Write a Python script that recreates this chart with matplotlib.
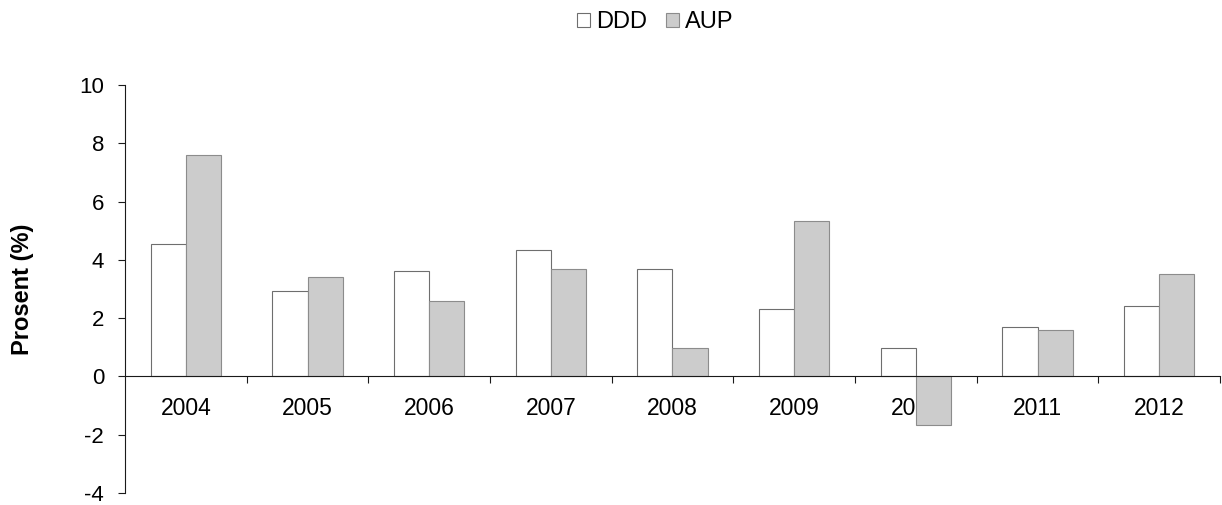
import matplotlib
matplotlib.use("Agg")
import matplotlib.pyplot as plt
import numpy as np
from matplotlib.ticker import FixedLocator

plt.rcParams['font.family'] = ['Liberation Sans', 'DejaVu Sans']

years = ['2004', '2005', '2006', '2007', '2008', '2009', '2010', '2011', '2012']
ddd = [4.53, 2.93, 3.61, 4.34, 3.70, 2.32, 0.96, 1.70, 2.42]
aup = [7.59, 3.40, 2.58, 3.69, 0.98, 5.35, -1.67, 1.58, 3.50]
yticks = [-4, -2, 0, 2, 4, 6, 8, 10]

fig = plt.figure(figsize=(12.22, 5.05), dpi=100)
ax = fig.add_axes([125/1222, 1-493/505, 1095/1222, (493-85)/505])

x = np.arange(len(years))
w = 0.29
b1 = ax.bar(x - w/2, ddd, width=w, color='white', edgecolor='#6e6e6e', linewidth=0.8, label='DDD', zorder=3)
b2 = ax.bar(x + w/2, aup, width=w, color='#cccccc', edgecolor='#8c8c8c', linewidth=0.8, label='AUP', zorder=3)

ax.set_xlim(-0.5, len(years) - 0.5)
ax.set_ylim(-4, 10)
ax.set_yticks(yticks)
ax.set_yticklabels([str(t) for t in yticks], fontsize=16)

ax.spines['top'].set_visible(False)
ax.spines['right'].set_visible(False)
ax.spines['bottom'].set_position(('data', 0))
for s in ['left', 'bottom']:
    ax.spines[s].set_color('#1a1a1a')
    ax.spines[s].set_linewidth(0.8)
    ax.spines[s].set_zorder(4)

ax.set_xticks(x)
ax.set_xticklabels(years, fontsize=16.5)
ax.xaxis.set_minor_locator(FixedLocator(np.arange(0.5, len(years), 1.0)))
ax.tick_params(axis='x', which='major', length=0, pad=15)
ax.tick_params(axis='x', which='minor', length=5, width=0.8, color='#1a1a1a', direction='out')
ax.tick_params(axis='y', length=5, width=0.8, color='#1a1a1a', direction='out', pad=10)

ax.set_ylabel('Prosent (%)', fontsize=17, fontweight='bold')
ax.yaxis.set_label_coords(-0.083, 0.5)

fig.legend(handles=[b1, b2], labels=['DDD', 'AUP'], loc='center',
           bbox_to_anchor=(655/1222, 1-22/505), ncol=2, frameon=False,
           fontsize=17, handlelength=0.55, handleheight=0.55,
           handletextpad=0.25, columnspacing=0.8, borderpad=0, borderaxespad=0)

fig.savefig('out.png', dpi=100)
